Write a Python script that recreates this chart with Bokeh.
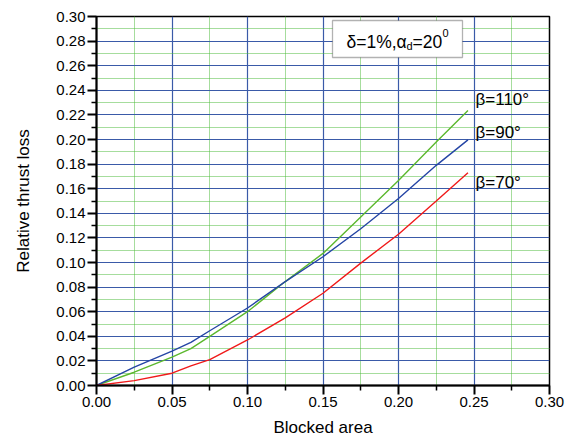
from bokeh.plotting import figure
from bokeh.models import (FixedTicker, NumeralTickFormatter, Range1d, Label, BoxAnnotation)
from bokeh.embed import file_html
from bokeh.resources import INLINE

# ---- data ----
blocked_area = [0, 0.025, 0.05, 0.0625, 0.075, 0.1, 0.125, 0.15, 0.175, 0.2, 0.225, 0.246]
loss_b90 = [0, 0.0149, 0.028, 0.035, 0.0445, 0.063, 0.0845, 0.1047, 0.1274, 0.152, 0.179, 0.1997]
loss_b110 = [0, 0.0108, 0.023, 0.030, 0.040, 0.060, 0.0845, 0.1074, 0.137, 0.1667, 0.198, 0.2236]
loss_b70 = [0, 0.004, 0.010, 0.016, 0.021, 0.037, 0.055, 0.075, 0.0995, 0.123, 0.150, 0.1729]
series_names = ["\u03b2=110\u00b0", "\u03b2=90\u00b0", "\u03b2=70\u00b0"]
colors = ["#5cb82e", "#2545a5", "#f01a1a"]
x_major = [round(i * 0.05, 2) for i in range(7)]
x_minor = [round(0.025 + i * 0.05, 3) for i in range(6)]
y_major = [round(i * 0.02, 2) for i in range(16)]
y_minor = [round(0.01 + i * 0.02, 2) for i in range(15)]

FONT = "Liberation Sans"

p = figure(width=575, height=442, output_backend="svg", toolbar_location=None,
           x_range=Range1d(0, 0.30), y_range=Range1d(0, 0.30),
           min_border_left=96, min_border_right=26, min_border_top=16, min_border_bottom=57,
           x_axis_label="Blocked area", y_axis_label="Relative thrust loss")

p.outline_line_color = "black"
p.outline_line_width = 1.5
p.outline_line_alpha = 1
p.background_fill_color = "white"

xt = FixedTicker(ticks=x_major, minor_ticks=x_minor)
yt = FixedTicker(ticks=y_major, minor_ticks=y_minor)
p.xaxis.ticker = xt
p.yaxis.ticker = yt
p.xgrid.ticker = xt
p.ygrid.ticker = yt

for ax in (p.xaxis[0], p.yaxis[0]):
    ax.formatter = NumeralTickFormatter(format="0.00")
    ax.axis_line_width = 2
    ax.axis_line_color = "black"
    ax.major_tick_line_width = 2
    ax.minor_tick_line_width = 1.5
    ax.major_tick_out = 9
    ax.major_tick_in = 0
    ax.minor_tick_out = 5
    ax.minor_tick_in = 0
    ax.major_label_text_font = FONT
    ax.major_label_text_font_size = "15px"
    ax.major_label_text_color = "black"
    ax.axis_label_text_font = FONT
    ax.axis_label_text_font_size = "17px"
    ax.axis_label_text_font_style = "normal"
    ax.axis_label_text_color = "black"

p.xaxis.major_label_standoff = 2
p.yaxis.major_label_standoff = 2
p.xaxis.axis_label_standoff = 8
p.yaxis.axis_label_standoff = 20

for g in (p.xgrid[0], p.ygrid[0]):
    g.grid_line_color = "#3a5aa8"
    g.grid_line_width = 1.2
    g.minor_grid_line_color = "#4cbb3a"
    g.minor_grid_line_dash = "1 1"
    g.minor_grid_line_width = 1

p.line(blocked_area, loss_b110, line_color=colors[0], line_width=1.4)
p.line(blocked_area, loss_b90, line_color=colors[1], line_width=1.4)
p.line(blocked_area, loss_b70, line_color=colors[2], line_width=1.4)

# series labels (screen units relative to the plot frame)
label_y = [286, 253, 203]
for name, yv in zip(series_names, label_y):
    p.add_layout(Label(x=379, y=yv, x_units="screen", y_units="screen", text=name,
                       text_font=FONT, text_font_size="17px", text_baseline="alphabetic",
                       text_color="black"))

# annotation box
p.add_layout(BoxAnnotation(left=236, right=366, top=365, bottom=328,
                           left_units="screen", right_units="screen",
                           top_units="screen", bottom_units="screen",
                           fill_color="white", fill_alpha=1,
                           line_color="black", line_width=1.3))
p.add_layout(Label(x=250, y=344, x_units="screen", y_units="screen", text="\u03b4=1%,\u03b1",
                   text_font=FONT, text_font_size="17.5px", text_baseline="alphabetic",
                   text_color="black"))
p.add_layout(Label(x=310, y=340, x_units="screen", y_units="screen", text="d",
                   text_font=FONT, text_font_size="11px", text_baseline="alphabetic",
                   text_color="black"))
p.add_layout(Label(x=316, y=344, x_units="screen", y_units="screen", text="=20",
                   text_font=FONT, text_font_size="17.5px", text_baseline="alphabetic",
                   text_color="black"))
p.add_layout(Label(x=346, y=353, x_units="screen", y_units="screen", text="0",
                   text_font=FONT, text_font_size="11px", text_baseline="alphabetic",
                   text_color="black"))

open("out.html", "w").write(file_html(p, INLINE))
